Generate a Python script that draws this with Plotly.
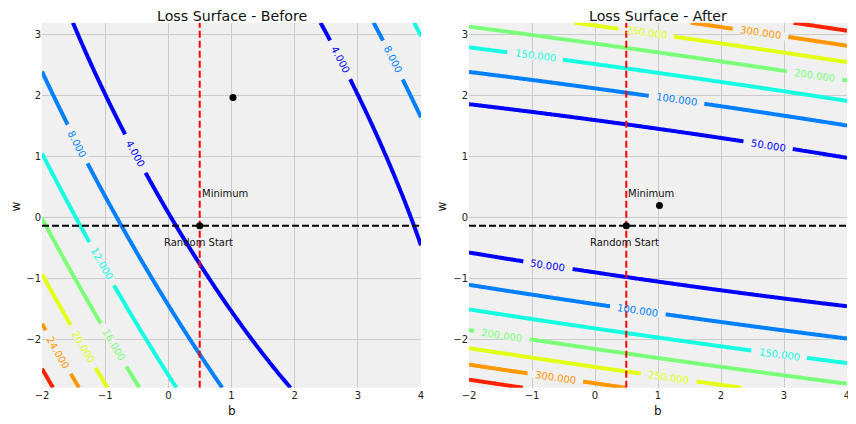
import numpy as np
import plotly.graph_objects as go

# ---------------- data ----------------
b_limits = [-2.0, 4.0]
w_limits = [-2.8, 3.2]
x_ticks = [-2, -1, 0, 1, 2, 3, 4]
y_ticks = [-2, -1, 0, 1, 2, 3]

b_start = 0.4967          # random start (dashed cross)
w_start = -0.1383
b_min = 1.0235            # minimum of the loss
w_min_before = 1.969
w_min_after = 0.1969
mean_x = 0.466            # quadratic-loss coefficients estimated from the contours
mean_x2 = 0.317
loss_min = 0.008
scale_before = 1.0
scale_after = 10.0

levels_before = [4, 8, 12, 16, 20, 24, 28]
levels_after = [50, 100, 150, 200, 250, 300, 350]
level_colors = ['#0000ff', '#0080ff', '#15ffe2', '#7bff7b', '#e2ff15', '#ff9700', '#ff2100']

# contour label positions (approximate, snapped onto their line)
labels_before = [(4, -0.508, 1.056), (4, 2.74, 2.60), (8, -1.43, 1.21), (8, 3.58, 2.60),
                 (12, -1.04, -0.755), (16, -0.84, -2.08), (20, -1.33, -2.11), (24, -1.68, -2.175)]
labels_after = [(50, 2.75, 1.205), (50, -0.745, -0.776), (100, 1.295, 1.937), (100, 0.681, -1.52),
                (150, -0.949, 2.68), (150, 2.925, -2.23), (200, 3.485, 2.34), (200, -1.48, -1.95),
                (250, 0.814, 3.056), (250, 1.17, -2.62), (300, 2.63, 3.056), (300, -0.628, -2.62)]

# ---------------- layout geometry ----------------
# the page body has an 8px margin, so the figure is drawn 8px in from the top-left
OFF = 8
FW, FH = 856 - OFF, 424 - OFF


def px_x(x):
    return (x - OFF) / FW


def px_y(y):
    return 1 - (y - OFF) / FH


dom_left = [px_x(42), px_x(421)]
dom_right = [px_x(469), px_x(847)]
dom_y = [px_y(387.7), px_y(22.7)]
sx = (dom_left[1] - dom_left[0]) * FW / (b_limits[1] - b_limits[0])
sy = (dom_y[1] - dom_y[0]) * FH / (w_limits[1] - w_limits[0])

FONT = "DejaVu Sans"
BG = "#f0f0f0"

b_range = np.linspace(b_limits[0], b_limits[1], 241)
w_range = np.linspace(w_limits[0], w_limits[1], 241)
bb, ww = np.meshgrid(b_range, w_range)


def loss_and_grad(b, w, w_star, s):
    db = b - b_min
    dw = w - w_star
    L = db ** 2 + 2 * s * mean_x * db * dw + s ** 2 * mean_x2 * dw ** 2 + loss_min
    gb = 2 * db + 2 * s * mean_x * dw
    gw = 2 * s * mean_x * db + 2 * s ** 2 * mean_x2 * dw
    return L, gb, gw


fig = go.Figure()
annotations = []


def add_panel(xa, ya, levels, labels, w_star, s, title, dom):
    Z = loss_and_grad(bb, ww, w_star, s)[0]
    for lvl, col in zip(levels, level_colors):
        fig.add_trace(go.Contour(
            x=b_range, y=w_range, z=Z, xaxis=xa, yaxis=ya,
            autocontour=False,
            contours=dict(start=lvl, end=lvl, size=1, coloring='lines', showlabels=False),
            colorscale=[[0, col], [1, col]], showscale=False,
            line=dict(width=4, smoothing=1), hoverinfo='skip'))
    # labels with inline gaps
    for lvl, b0, w0 in labels:
        col = level_colors[levels.index(lvl)]
        b, w = b0, w0
        for _ in range(30):
            L, gb, gw = loss_and_grad(b, w, w_star, s)
            pgb, pgw = gb / sx, gw / sy
            step = (L - lvl) / (pgb ** 2 + pgw ** 2)
            b -= step * pgb / sx
            w -= step * pgw / sy
        L, gb, gw = loss_and_grad(b, w, w_star, s)
        tx, ty = gw * sx, gb * sy
        ang = np.degrees(np.arctan2(ty, tx))
        if ang > 90:
            ang -= 180
        if ang <= -90:
            ang += 180
        nrm = np.hypot(tx, ty)
        ux, uy = tx / nrm, ty / nrm
        text = f"{lvl:.3f}"
        tw = sum(3.18 if ch == '.' else 6.36 for ch in text)
        hg = tw / 2 + 7.5
        fig.add_trace(go.Scatter(
            x=[b - ux * hg / sx, b + ux * hg / sx], y=[w + uy * hg / sy, w - uy * hg / sy],
            xaxis=xa, yaxis=ya, mode='lines', line=dict(color=BG, width=8),
            hoverinfo='skip', showlegend=False))
        annotations.append(dict(x=b, y=w, xref=xa, yref=ya, text=text, textangle=float(ang),
                                showarrow=False, xanchor='center', yanchor='middle',
                                font=dict(family=FONT, size=10, color=col)))
    # dashed cross
    fig.add_trace(go.Scatter(x=list(b_limits), y=[w_start, w_start], xaxis=xa, yaxis=ya,
                             mode='lines', line=dict(color='black', width=2, dash='7px,3px'),
                             hoverinfo='skip', showlegend=False))
    fig.add_trace(go.Scatter(x=[b_start, b_start], y=list(w_limits), xaxis=xa, yaxis=ya,
                             mode='lines', line=dict(color='red', width=2, dash='7px,3px'),
                             hoverinfo='skip', showlegend=False))
    fig.add_trace(go.Scatter(x=[b_start, b_min], y=[w_start, w_star], xaxis=xa, yaxis=ya,
                             mode='markers', marker=dict(color='black', size=7),
                             hoverinfo='skip', showlegend=False))
    annotations.append(dict(x=b_start, y=w_start + 0.53, xref=xa, yref=ya, text='Minimum',
                            showarrow=False, xanchor='left', yanchor='middle',
                            font=dict(family=FONT, size=10, color='#111')))
    annotations.append(dict(x=b_start - 0.60, y=w_start - 0.275, xref=xa, yref=ya,
                            text='Random Start', showarrow=False, xanchor='left', yanchor='middle',
                            font=dict(family=FONT, size=10, color='#111')))
    cx = (dom[0] + dom[1]) / 2
    annotations.append(dict(x=cx, y=px_y(16), xref='paper', yref='paper', text=title,
                            showarrow=False, xanchor='center', yanchor='middle', borderpad=0,
                            font=dict(family=FONT, size=14.2, color='#111')))
    annotations.append(dict(x=cx, y=px_y(411), xref='paper', yref='paper', text='b',
                            showarrow=False, xanchor='center', yanchor='middle',
                            font=dict(family=FONT, size=12, color='#111')))
    annotations.append(dict(x=px_x(15.5) if dom is dom_left else dom[0] - 27.5 / FW,
                            y=px_y(207), xref='paper', yref='paper',
                            text='w', textangle=-90, showarrow=False, xanchor='center',
                            yanchor='middle', borderpad=0,
                            font=dict(family=FONT, size=12, color='#111')))


add_panel('x', 'y', levels_before, labels_before, w_min_before, scale_before,
          'Loss Surface - Before', dom_left)
add_panel('x2', 'y2', levels_after, labels_after, w_min_after, scale_after,
          'Loss Surface - After', dom_right)

axis_common = dict(showgrid=True, gridcolor='#cbcbcb', gridwidth=1, zeroline=False,
                   showline=False, ticks='', automargin=False,
                   tickfont=dict(family=FONT, size=10, color='#222'))

fig.update_layout(
    width=FW, height=FH, margin=dict(l=0, r=0, t=0, b=0, autoexpand=False),
    paper_bgcolor='white', plot_bgcolor=BG, showlegend=False,
    xaxis=dict(domain=dom_left, range=b_limits, tickvals=x_ticks, anchor='y', **axis_common),
    yaxis=dict(domain=dom_y, range=w_limits, tickvals=y_ticks, anchor='x', **axis_common),
    xaxis2=dict(domain=dom_right, range=b_limits, tickvals=x_ticks, anchor='y2', **axis_common),
    yaxis2=dict(domain=dom_y, range=w_limits, tickvals=y_ticks, anchor='x2', **axis_common),
    annotations=annotations,
)

fig.write_html("out.html")
